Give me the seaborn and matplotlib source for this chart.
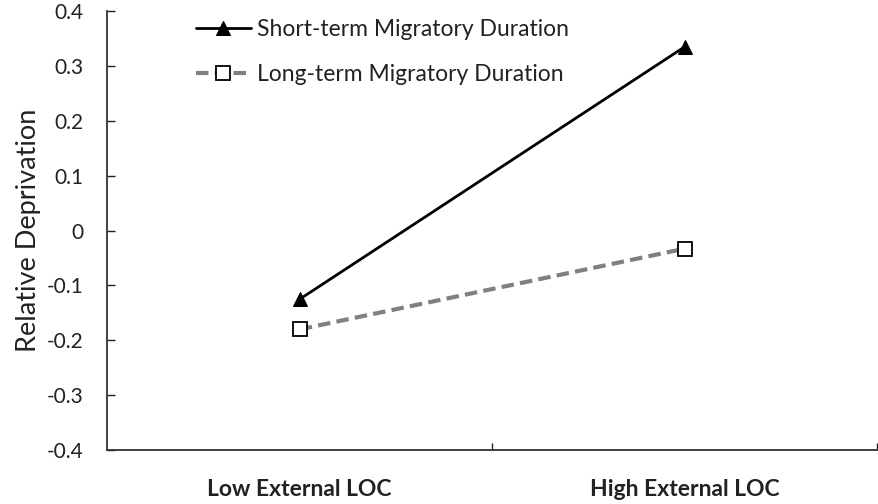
import pandas as pd
import seaborn as sns
import matplotlib.pyplot as plt
from matplotlib.ticker import FixedLocator

# data
loc_levels = ["Low External LOC", "High External LOC"]
short_term = [-0.125, 0.335]
long_term = [-0.18, -0.033]

sns.set_style("white")
plt.rcParams['font.family'] = ['Lato', 'DejaVu Sans']

fig = plt.figure(figsize=(8.79, 5.04), dpi=100)
ax = fig.add_axes([0.122, 0.107, 0.876, 0.871])

df_short = pd.DataFrame({"LOC": loc_levels, "RD": short_term})
df_long = pd.DataFrame({"LOC": loc_levels, "RD": long_term})

sns.lineplot(data=df_short, x="LOC", y="RD", ax=ax, color="black", lw=2,
             marker="^", markersize=10, markeredgecolor="black",
             label="Short-term Migratory Duration")
sns.lineplot(data=df_long, x="LOC", y="RD", ax=ax, color="#808080", lw=3,
             linestyle=(0, (3, 1.5)), marker="s", markersize=10,
             markerfacecolor="white", markeredgecolor="black", markeredgewidth=1.3,
             label="Long-term Migratory Duration")

ax.set_xlim(-0.5, 1.5)
ax.set_ylim(-0.4, 0.4)
ax.set_yticks([-0.4, -0.3, -0.2, -0.1, 0, 0.1, 0.2, 0.3, 0.4])
ax.set_yticklabels(["-0.4", "-0.3", "-0.2", "-0.1", "0", "0.1", "0.2", "0.3", "0.4"])
ax.xaxis.set_minor_locator(FixedLocator([0.5, 1.5]))

ax.tick_params(axis="y", direction="in", length=6, width=1, labelsize=15,
               left=True, pad=17, colors="#222222")
ax.tick_params(axis="x", which="major", length=0, pad=21, labelsize=16.5,
               colors="#222222")
ax.tick_params(axis="x", which="minor", direction="in", length=5, width=1,
               bottom=True, color="#222222")
for lbl in ax.get_xticklabels():
    lbl.set_fontweight("bold")

ax.set_xlabel("")
ax.set_ylabel("Relative Deprivation", fontsize=19.5, labelpad=4, color="#222222")

for side in ["top", "right"]:
    ax.spines[side].set_visible(False)
for side in ["left", "bottom"]:
    ax.spines[side].set_color("#333333")
    ax.spines[side].set_linewidth(1.3)

ax.legend(loc="upper left", bbox_to_anchor=(0.088, 1.03), frameon=False,
          fontsize=16.5, handlelength=2.4, labelspacing=1.05, handletextpad=0.3,
          labelcolor="#222222")

fig.savefig("out.png", dpi=100, facecolor="white")
